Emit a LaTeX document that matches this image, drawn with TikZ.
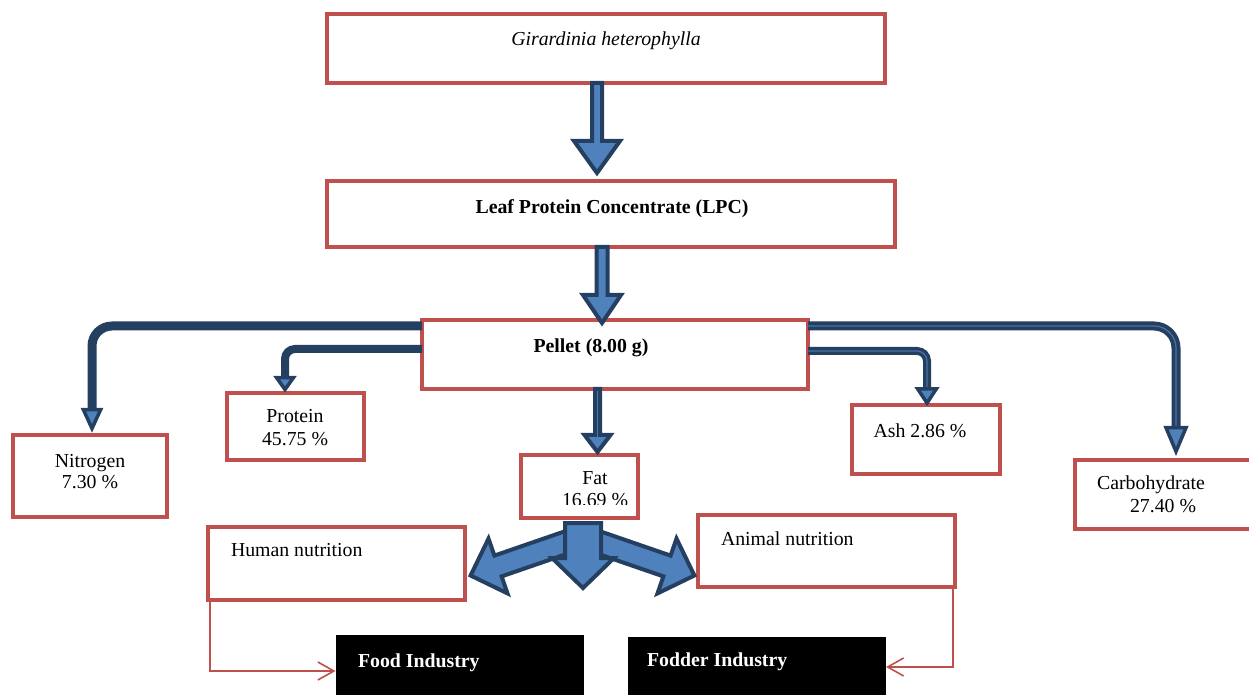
\documentclass[tikz,border=0pt]{standalone}
\usepackage{fontspec}
\setmainfont{Liberation Serif}
\usetikzlibrary{arrows.meta,calc}
\definecolor{boxred}{HTML}{C0504D}
\definecolor{navy}{HTML}{243F60}
\definecolor{ablue}{HTML}{4F81BD}
\definecolor{stripeblue}{HTML}{4A72A8}
% #1 start (top centre), #2 tip, #3 shaft half width, #4 head half width, #5 head length, #6 style
\newcommand\blockarrow[6]{%
  \path[#6] let \p1=#1, \p2=#2 in
    (\x1-#3,\y1) -- (\x1+#3,\y1) -- (\x1+#3,\y2+#5) -- (\x1+#4,\y2+#5)
    -- (\x1,\y2) -- (\x1-#4,\y2+#5) -- (\x1-#3,\y2+#5) -- cycle;}
% #1 tip, #2 half width, #3 length
\newcommand\headtri[3]{%
  \path[headstyle] let \p2=#1 in
    (\x2-#2,\y2+#3) -- (\x2+#2,\y2+#3) -- (\x2,\y2) -- cycle;}
\begin{document}
\begin{tikzpicture}[x=0.5pt,y=-0.5pt,
  every node/.style={font=\fontsize{9.9}{11}\selectfont},
  box/.style={draw=boxred,line width=2pt,inner sep=0pt,outer sep=0pt},
  blackbox/.style={fill=black,inner sep=0pt,outer sep=0pt},
  txt/.style={inner sep=0pt,outer sep=0pt,text height=1.5ex,text depth=0.25ex},
  conn/.style={draw=navy,line width=4.5pt},
  conninner/.style={draw=navy,line width=4pt},
  stripe/.style={draw=stripeblue,line width=0.6pt},
  headstyle/.style={draw=navy,fill=ablue,line width=1.75pt,line join=miter},
  blockstyle/.style={draw=navy,fill=ablue,line width=2pt,line join=miter},
  thinred/.style={draw=boxred,line width=0.8pt,-{Straight Barb[length=8pt,width=9pt]}}]
\useasboundingbox (0,0) rectangle (1249,695);
\clip (0,0) rectangle (1249,695);

% boxes
\node[box,minimum width=279pt,minimum height=34.5pt] (gir) at (606,48.5) {};
\node[box,minimum width=284pt,minimum height=33pt] (lpc) at (611,214) {};
\node[box,minimum width=193pt,minimum height=34.5pt] (pellet) at (615,354.5) {};
\node[box,minimum width=77pt,minimum height=41pt] (nitro) at (90,476) {};
\node[box,minimum width=68.5pt,minimum height=33.5pt] (protein) at (295.5,426.5) {};
\node[box,minimum width=58.5pt,minimum height=31.5pt] (fat) at (579.5,486.5) {};
\node[box,minimum width=74pt,minimum height=34.5pt] (ash) at (926,439.5) {};
\node[box,minimum width=89pt,minimum height=34.5pt] (carb) at (1164,494.5) {};
\node[box,minimum width=128.5pt,minimum height=36.5pt] (human) at (336.5,563.5) {};
\node[box,minimum width=128.5pt,minimum height=36pt] (animal) at (826.5,551) {};
\node[blackbox,minimum width=124pt,minimum height=33pt] (food) at (459.5,668) {};
\node[blackbox,minimum width=129pt,minimum height=33pt] (fodder) at (757,670) {};

% texts
\node[txt] (girtxt) at (606,40) {\itshape Girardinia heterophylla};
\node[txt] (lpctxt) at (612,208) {\bfseries Leaf Protein Concentrate (LPC)};
\node[txt] (pellettxt) at (591,347) {\bfseries Pellet (8.00 g)};
\node[txt] (nitrotxt) at (90,462) {Nitrogen};
\node[txt] (nitroval) at (90,483) {7.30 \%};
\node[txt] (proteintxt) at (295,417) {Protein};
\node[txt] (proteinval) at (295,440) {45.75 \%};
\begin{scope}
  \clip (521,455) rectangle (638,505);
  \node[txt] (fattxt) at (595,479) {Fat};
  \node[txt] (fatval) at (595,501) {16.69 \%};
\end{scope}
\node[txt] (ashtxt) at (920,432) {Ash 2.86 \%};
\node[txt] (carbtxt) at (1151,484) {Carbohydrate};
\node[txt] (carbval) at (1163,507) {27.40 \%};
\node[txt,anchor=west] (humantxt) at (231,551) {Human nutrition};
\node[txt,anchor=west] (animaltxt) at (721,540) {Animal nutrition};
\node[txt,anchor=west,text=white] (foodtxt) at (358,662) {\bfseries Food Industry};
\node[txt,anchor=west,text=white] (foddertxt) at (647,661) {\bfseries Fodder Industry};

% block arrows down
\blockarrow{([xshift=-4.5pt]gir.south)}{([xshift=-4.5pt,yshift=4pt]lpc.north)}{2.5pt}{11.5pt}{16pt}{blockstyle}
\blockarrow{([xshift=-4.5pt]lpc.south)}{([xshift=-4.5pt,yshift=-1.5pt]pellet.north)}{2.75pt}{9.5pt}{14pt}{blockstyle}
\blockarrow{([xshift=-8.75pt]pellet.south)}{([xshift=-8.75pt,yshift=1.5pt]fat.north)}{1.25pt}{6.5pt}{8.5pt}{blockstyle}

% connectors from pellet
\draw[conn,rounded corners=10pt]
  ([yshift=-3pt]pellet.north west) -| ([xshift=1pt,yshift=12.65pt]nitro.north);
\headtri{([xshift=1pt,yshift=3.25pt]nitro.north)}{4.3pt}{9.4pt}
\draw[conninner,rounded corners=5pt]
  ([yshift=-14.5pt]pellet.north west) -| ([xshift=-5.25pt,yshift=7.65pt]protein.north);
\headtri{([xshift=-5.25pt,yshift=1.75pt]protein.north)}{4.2pt}{5.9pt}
\draw[conninner,rounded corners=5pt]
  ([yshift=-15.5pt]pellet.north east) -| ([xshift=0.5pt,yshift=8.1pt]ash.north);
\draw[stripe,rounded corners=5pt]
  ([yshift=-15.5pt]pellet.north east) -| ([xshift=0.5pt,yshift=8.1pt]ash.north);
\headtri{([xshift=0.5pt,yshift=1pt]ash.north)}{4.7pt}{7.1pt}
\draw[conn,rounded corners=11pt]
  ([yshift=-3pt]pellet.north east) -| ([xshift=6pt,yshift=16.15pt]carb.north);
\draw[stripe,rounded corners=11pt]
  ([yshift=-3pt]pellet.north east) -| ([xshift=6pt,yshift=16.15pt]carb.north);
\headtri{([xshift=6pt,yshift=4.25pt]carb.north)}{5pt}{11.9pt}

% three-way arrow below fat: side arrows first, centre arrow on top
\path[blockstyle]
  (574.7,527.9) -- (494.4,555.6) -- (488.5,538.6) -- (470.6,575.5) -- (507.5,593.4) -- (501.6,576.4) -- (581.9,548.7) -- cycle;
\path[blockstyle]
  (590.3,527.9) -- (670.6,555.6) -- (676.5,538.6) -- (694.4,575.5) -- (657.5,593.4) -- (663.4,576.4) -- (583.1,548.7) -- cycle;
\path[blockstyle]
  (565,523) -- (601,523) -- (601,558) -- (614,558) -- (583,588) -- (552,558) -- (565,558) -- cycle;

% thin red connectors
\draw[thinred] ([xshift=1pt]human.south west) |- ([yshift=-1.5pt]food.west);
\draw[thinred] ([xshift=-1pt]animal.south east) |- ([yshift=1.5pt]fodder.east);
\end{tikzpicture}
\end{document}
